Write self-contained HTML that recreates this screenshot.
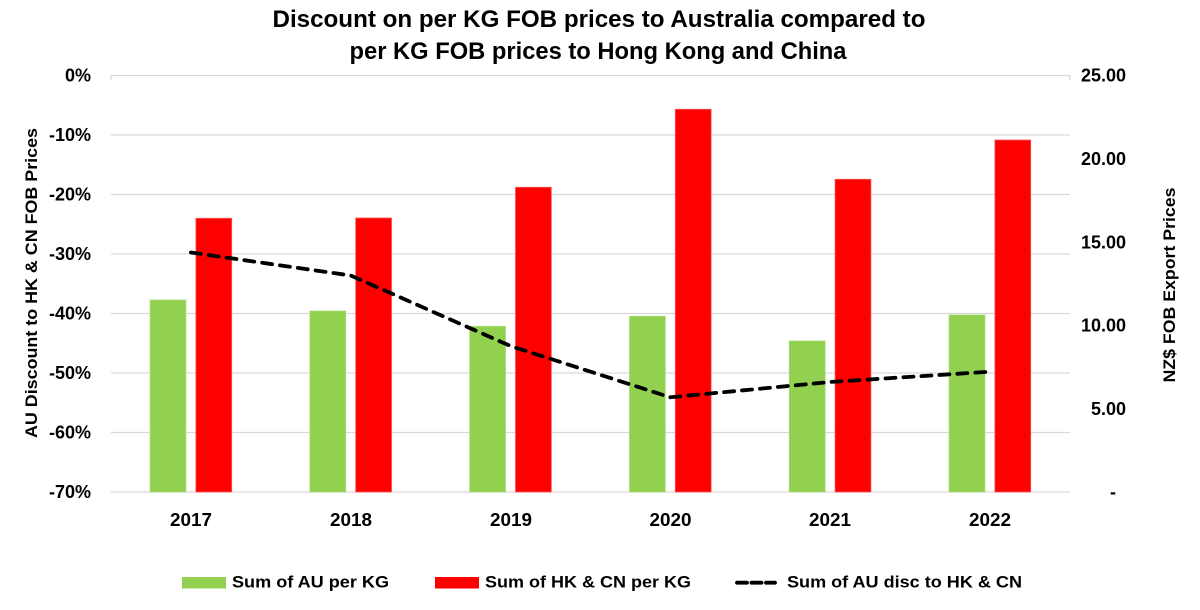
<!DOCTYPE html>
<html>
<head>
<meta charset="utf-8">
<style>
  html, body { margin: 0; padding: 0; background: #ffffff; }
  body { width: 1200px; height: 610px; overflow: hidden; }
  svg { display: block; }
  text { font-family: "Liberation Sans", Arial, sans-serif; font-weight: bold; fill: #000; }
</style>
</head>
<body>
<svg width="1200" height="610" viewBox="0 0 1200 610" xmlns="http://www.w3.org/2000/svg">
  <rect x="0" y="0" width="1200" height="610" fill="#ffffff"/>

  <!-- Title -->
  <text x="599" y="27" font-size="24" text-anchor="middle" textLength="653" lengthAdjust="spacingAndGlyphs">Discount on per KG FOB prices to Australia compared to</text>
  <text x="598" y="59" font-size="24" text-anchor="middle" textLength="497" lengthAdjust="spacingAndGlyphs">per KG FOB prices to Hong Kong and China</text>

  <!-- Gridlines -->
  <g stroke="#d9d9d9" stroke-width="1.3">
    <line x1="111" y1="75.5" x2="1070" y2="75.5"/>
    <line x1="111" y1="135" x2="1070" y2="135"/>
    <line x1="111" y1="194.5" x2="1070" y2="194.5"/>
    <line x1="111" y1="254" x2="1070" y2="254"/>
    <line x1="111" y1="313.5" x2="1070" y2="313.5"/>
    <line x1="111" y1="373" x2="1070" y2="373"/>
    <line x1="111" y1="432.5" x2="1070" y2="432.5"/>
    <line x1="111" y1="492" x2="1070" y2="492"/>
    <line x1="111" y1="75.5" x2="111" y2="80"/>
    <line x1="1070" y1="75.5" x2="1070" y2="80"/>
  </g>

  <!-- Bars: green (AU) -->
  <g fill="#92d050" stroke="#a6da74" stroke-width="0.8">
    <rect x="150.1" y="300" width="35.8" height="192"/>
    <rect x="309.9" y="311" width="35.8" height="181"/>
    <rect x="469.7" y="326.3" width="35.8" height="165.7"/>
    <rect x="629.5" y="316.3" width="35.8" height="175.7"/>
    <rect x="789.3" y="341" width="35.8" height="151"/>
    <rect x="949.1" y="315" width="35.8" height="177"/>
  </g>
  <!-- Bars: red (HK & CN) -->
  <g fill="#ff0000" stroke="#ff5050" stroke-width="0.8">
    <rect x="195.9" y="218.3" width="35.8" height="273.7"/>
    <rect x="355.7" y="218" width="35.8" height="274"/>
    <rect x="515.5" y="187.3" width="35.8" height="304.7"/>
    <rect x="675.3" y="109.3" width="35.8" height="382.7"/>
    <rect x="835.1" y="179.3" width="35.8" height="312.7"/>
    <rect x="994.9" y="140" width="35.8" height="352"/>
  </g>

  <!-- Dashed line -->
  <polyline points="190.9,252.5 350.7,275.5 510.5,346 670.3,397.3 830.1,382 989.9,371.7"
        fill="none" stroke="#000" stroke-width="3.8" stroke-dasharray="10 8" stroke-linecap="round" stroke-linejoin="round"/>

  <!-- Left axis labels -->
  <g font-size="18" text-anchor="end">
    <text x="91" y="81.5">0%</text>
    <text x="91" y="141">-10%</text>
    <text x="91" y="200.5">-20%</text>
    <text x="91" y="260">-30%</text>
    <text x="91" y="319.5">-40%</text>
    <text x="91" y="379">-50%</text>
    <text x="91" y="438.5">-60%</text>
    <text x="91" y="498">-70%</text>
  </g>

  <!-- Right axis labels -->
  <g font-size="18" text-anchor="end">
    <text x="1126" y="81.5">25.00</text>
    <text x="1126" y="165">20.00</text>
    <text x="1126" y="248.3">15.00</text>
    <text x="1126" y="331.7">10.00</text>
    <text x="1126" y="415">5.00</text>
  </g>
  <text x="1113" y="498" font-size="18" text-anchor="middle">-</text>

  <!-- Axis titles -->
  <text transform="translate(31,283) rotate(-90)" x="0" y="6" font-size="17" text-anchor="middle" textLength="310" lengthAdjust="spacingAndGlyphs">AU Discount to HK &amp; CN FOB Prices</text>
  <text transform="translate(1169,285) rotate(-90)" x="0" y="6" font-size="17" text-anchor="middle" textLength="195" lengthAdjust="spacingAndGlyphs">NZ$ FOB Export Prices</text>

  <!-- X axis labels -->
  <g font-size="18" text-anchor="middle">
    <text x="191" y="526" textLength="42" lengthAdjust="spacingAndGlyphs">2017</text>
    <text x="351" y="526" textLength="42" lengthAdjust="spacingAndGlyphs">2018</text>
    <text x="511" y="526" textLength="42" lengthAdjust="spacingAndGlyphs">2019</text>
    <text x="670.5" y="526" textLength="42" lengthAdjust="spacingAndGlyphs">2020</text>
    <text x="830" y="526" textLength="42" lengthAdjust="spacingAndGlyphs">2021</text>
    <text x="990" y="526" textLength="42" lengthAdjust="spacingAndGlyphs">2022</text>
  </g>

  <!-- Legend -->
  <rect x="182" y="577" width="44" height="11.5" fill="#92d050"/>
  <text x="232" y="587.5" font-size="17" textLength="157" lengthAdjust="spacingAndGlyphs">Sum of AU per KG</text>
  <rect x="435" y="577" width="44" height="11.5" fill="#ff0000"/>
  <text x="485" y="587.5" font-size="17" textLength="206" lengthAdjust="spacingAndGlyphs">Sum of HK &amp; CN per KG</text>
  <line x1="737" y1="582.7" x2="775" y2="582.7" stroke="#000" stroke-width="3.8" stroke-dasharray="10 4.5" stroke-linecap="round"/>
  <text x="787" y="587.5" font-size="17" textLength="235" lengthAdjust="spacingAndGlyphs">Sum of AU disc to HK &amp; CN</text>
</svg>
</body>
</html>
